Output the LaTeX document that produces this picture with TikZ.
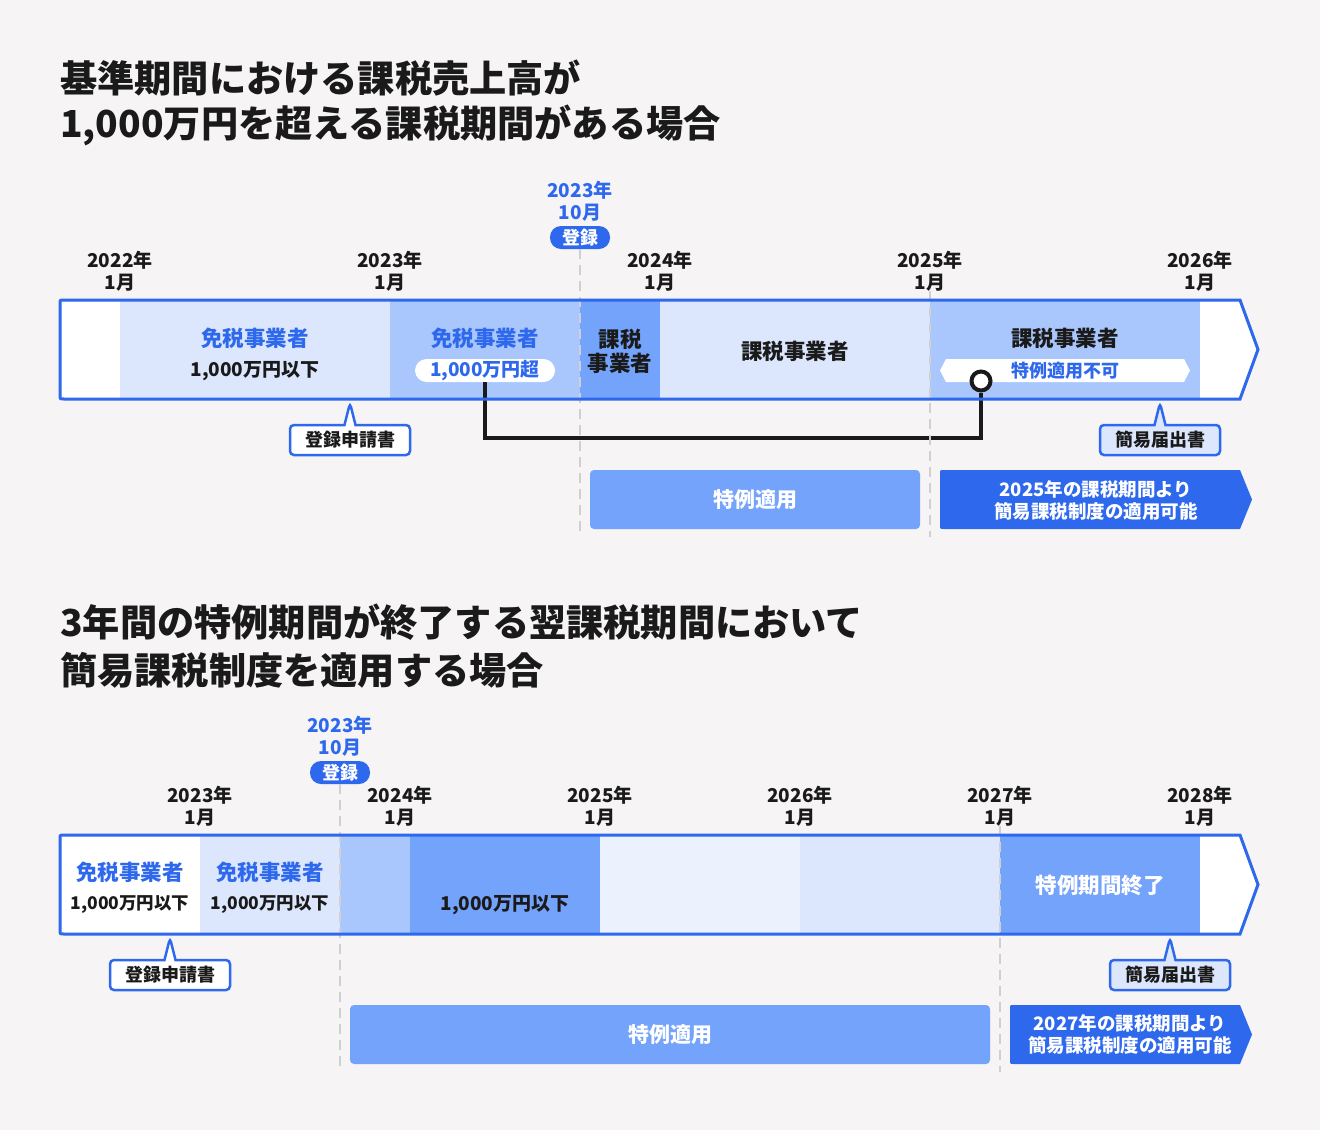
\documentclass[tikz,border=0pt]{standalone}
\usepackage{fontspec}
\setmainfont{Noto Sans CJK JP}
\usetikzlibrary{shapes.callouts}
\definecolor{PaperBg}{HTML}{F6F4F5}
\definecolor{MainBlue}{HTML}{2E68EC}
\definecolor{DeepFill}{HTML}{74A3FB}
\definecolor{MidFill}{HTML}{A9C7FD}
\definecolor{SoftFill}{HTML}{DCE7FD}
\definecolor{PaleFill}{HTML}{ECF2FD}
\definecolor{InkBlack}{HTML}{1A1A1A}
\definecolor{GuideGray}{HTML}{D0D0D0}

\tikzset{
  every node/.style={text=InkBlack, inner sep=0pt},
  heading/.style={anchor=west, font=\bfseries\fontsize{37.2}{46}\selectfont},
  yearmark/.style={align=center, font=\bfseries\fontsize{19}{22}\selectfont},
  regmark/.style={yearmark, text=MainBlue},
  regpill/.style={fill=MainBlue, text=white, rounded corners=11pt,
    minimum width=60pt, minimum height=23pt,
    font=\bfseries\fontsize{18}{22}\selectfont},
  status/.style={align=center, font=\bfseries\fontsize{21.5}{24}\selectfont},
  amount/.style={font=\bfseries\fontsize{19}{22}\selectfont},
  small amount/.style={font=\bfseries\fontsize{17.5}{22}\selectfont},
  memo/.style={rectangle callout, draw=MainBlue, line width=2.5pt, fill=white,
    rounded corners=4pt, minimum width=120pt, minimum height=30pt,
    callout pointer width=11pt, font=\bfseries\fontsize{18}{22}\selectfont},
  barline/.style={draw=MainBlue, line width=3pt},
  guide/.style={GuideGray, line width=2.2pt, dash pattern=on 10pt off 6pt},
  link/.style={draw=InkBlack, line width=4pt},
  period/.style={fill=DeepFill, rounded corners=4pt, text=white,
    font=\bfseries\fontsize{21}{24}\selectfont},
  gaintext/.style={text=white, align=center,
    font=\bfseries\fontsize{18.5}{22}\selectfont},
}

\begin{document}
\begin{tikzpicture}[x=1pt, y=-1pt]
  \useasboundingbox[fill=PaperBg] (0,0) rectangle (1320,1130);

  %%%% Case 1
  \node[heading] (head1a) at (60,78) {基準期間における課税売上高が};
  \node[heading] (head1b) at (60,125) {1,000万円を超える課税期間がある場合};

  % year marks
  \node[yearmark] (y22) at (120,271) {2022年\\1月};
  \node[yearmark] (y23) at (390,271) {2023年\\1月};
  \node[yearmark] (y24) at (660,271) {2024年\\1月};
  \node[yearmark] (y25) at (930,271) {2025年\\1月};
  \node[yearmark] (y26) at (1200,271) {2026年\\1月};
  \node[regmark] (reg1) at (580,201) {2023年\\10月};
  \node[regpill] (regpill1) at (580,237.5) {登録};

  % bar
  \fill[white] (64,300) -- (1240,300) -- (1258,349.5) -- (1240,399) -- (64,399)
    .. controls (60,399) .. (60,395) -- (60,304) .. controls (60,300) .. (64,300) -- cycle;
  \fill[SoftFill] (120,300) rectangle (390,399);
  \fill[MidFill] (390,300) rectangle (580,399);
  \fill[DeepFill] (580,300) rectangle (660,399);
  \fill[SoftFill] (660,300) rectangle (930,399);
  \fill[MidFill] (930,300) rectangle (1200,399);
  \fill[white] (940,370.5) -- (946,359) -- (1184,359) -- (1190,370.5) -- (1184,382)
    -- (946,382) -- cycle;

  % connector
  \node[circle, draw=InkBlack, line width=4pt, fill=white, minimum size=19pt]
    (endmark) at (981,381) {};
  \node[fill=white, rounded corners=11.5pt, minimum width=140pt, minimum height=23pt,
    text=MainBlue, amount] (over) at (485,370.5) {1,000万円超};
  \draw[link] (over.south) -- ++(0,56) -| (endmark.south);

  % guides
  \draw[guide] (regpill1.south) -- (580,537);
  \draw[guide] (y25.south) -- (930,537);

  \draw[barline] (64,300) -- (1240,300) -- (1258,349.5) -- (1240,399) -- (64,399)
    .. controls (60,399) .. (60,395) -- (60,304) .. controls (60,300) .. (64,300) -- cycle;

  \node[status, text=MainBlue] (free1) at (255,338) {免税事業者};
  \node[amount] (under1) at (255,371) {1,000万円以下};
  \node[status, text=MainBlue] (free2) at (485,338) {免税事業者};
  \node[status] (tax1) at (620,351) {課税\\事業者};
  \node[status] (tax2) at (795,351) {課税事業者};
  \node[status] (tax3) at (1065,338) {課税事業者};
  \node[text=MainBlue, font=\bfseries\fontsize{18}{22}\selectfont] (nogo) at (1065,370.5) {特例適用不可};

  % notes
  \node[memo, callout absolute pointer={(350,403)}] (apply1) at (350,440) {登録申請書};
  \node[memo, fill=SoftFill, callout absolute pointer={(1160,403)}] (notice1) at (1160,440) {簡易届出書};

  % results
  \node[period, minimum width=330pt, minimum height=59pt] (special1) at (755,499.5) {特例適用};
  \fill[MainBlue] (944,470) -- (1240,470) -- (1252,499.5) -- (1240,529) -- (944,529)
    .. controls (940,529) .. (940,525) -- (940,474) .. controls (940,470) .. (944,470) -- cycle;
  \node[gaintext] (simple1) at (1096,500) {2025年の課税期間より\\簡易課税制度の適用可能};

  %%%% Case 2
  \node[heading] (head2a) at (60,622) {3年間の特例期間が終了する翌課税期間において};
  \node[heading] (head2b) at (60,670) {簡易課税制度を適用する場合};

  % year marks
  \node[yearmark] (z23) at (200,806) {2023年\\1月};
  \node[yearmark] (z24) at (400,806) {2024年\\1月};
  \node[yearmark] (z25) at (600,806) {2025年\\1月};
  \node[yearmark] (z26) at (800,806) {2026年\\1月};
  \node[yearmark] (z27) at (1000,806) {2027年\\1月};
  \node[yearmark] (z28) at (1200,806) {2028年\\1月};
  \node[regmark] (reg2) at (340,736) {2023年\\10月};
  \node[regpill] (regpill2) at (340,772.5) {登録};

  % bar
  \fill[white] (64,835) -- (1240,835) -- (1258,884.5) -- (1240,934) -- (64,934)
    .. controls (60,934) .. (60,930) -- (60,839) .. controls (60,835) .. (64,835) -- cycle;
  \fill[SoftFill] (200,835) rectangle (340,934);
  \fill[MidFill] (340,835) rectangle (410,934);
  \fill[DeepFill] (410,835) rectangle (600,934);
  \fill[PaleFill] (600,835) rectangle (800,934);
  \fill[SoftFill] (800,835) rectangle (1000,934);
  \fill[DeepFill] (1000,835) rectangle (1200,934);

  % guides
  \draw[guide] (regpill2.south) -- (340,1072);
  \draw[guide] (z27.south) -- (1000,1072);

  \draw[barline] (64,835) -- (1240,835) -- (1258,884.5) -- (1240,934) -- (64,934)
    .. controls (60,934) .. (60,930) -- (60,839) .. controls (60,835) .. (64,835) -- cycle;

  \node[status, text=MainBlue] (free3) at (130,872) {免税事業者};
  \node[small amount] (under2) at (130,905) {1,000万円以下};
  \node[status, text=MainBlue] (free4) at (270,872) {免税事業者};
  \node[small amount] (under3) at (270,905) {1,000万円以下};
  \node[amount] (under4) at (505,905) {1,000万円以下};
  \node[status, text=white] (ends) at (1100,885) {特例期間終了};

  % notes
  \node[memo, callout absolute pointer={(170,938)}] (apply2) at (170,975) {登録申請書};
  \node[memo, fill=SoftFill, callout absolute pointer={(1170,938)}] (notice2) at (1170,975) {簡易届出書};

  % results
  \node[period, minimum width=640pt, minimum height=59pt] (special2) at (670,1034.5) {特例適用};
  \fill[MainBlue] (1014,1005) -- (1240,1005) -- (1252,1034.5) -- (1240,1064) -- (1014,1064)
    .. controls (1010,1064) .. (1010,1060) -- (1010,1009) .. controls (1010,1005) .. (1014,1005) -- cycle;
  \node[gaintext] (simple2) at (1130,1034.5) {2027年の課税期間より\\簡易課税制度の適用可能};
\end{tikzpicture}
\end{document}
